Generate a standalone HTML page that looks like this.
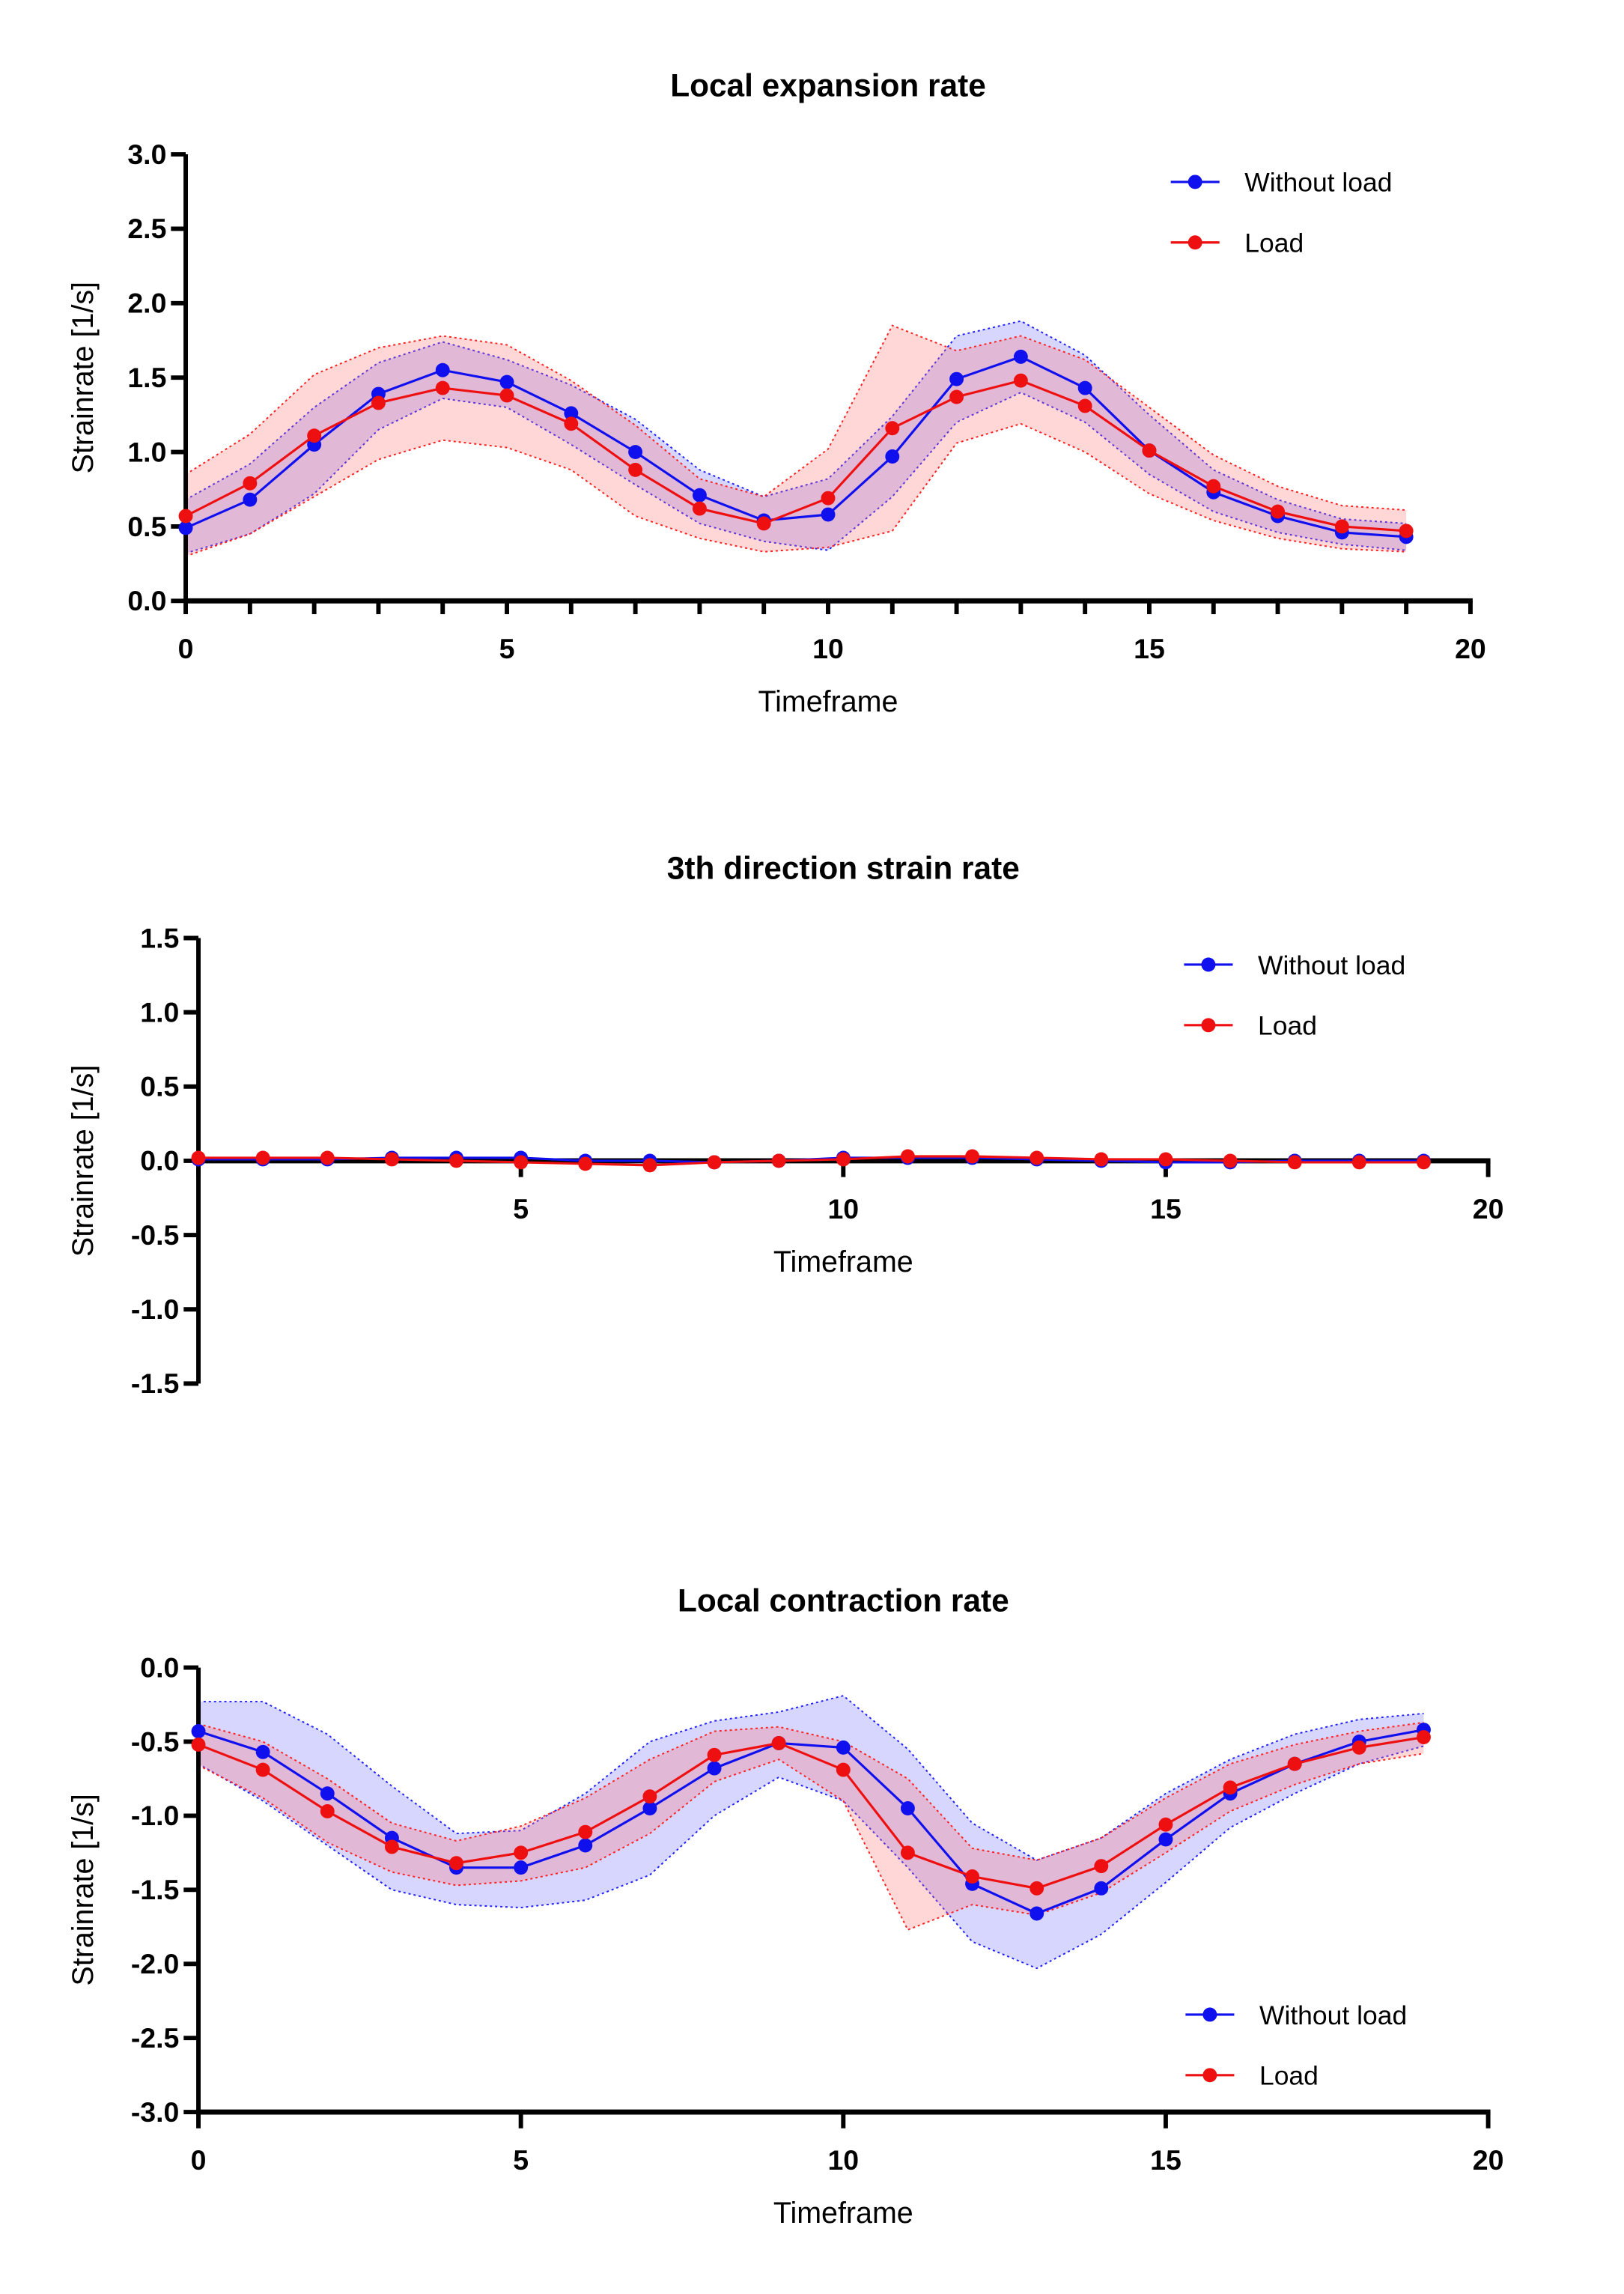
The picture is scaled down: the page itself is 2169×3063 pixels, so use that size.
<!DOCTYPE html>
<html><head><meta charset="utf-8"><style>
html,body{margin:0;padding:0;background:#fff;}
svg{display:block;font-family:"Liberation Sans",Arial,sans-serif;}
</style></head><body>
<svg id="root" width="2169" height="3063" viewBox="0 0 1100 1553" xmlns="http://www.w3.org/2000/svg"></svg>
<script>
const timeframes=[0,1,2,3,4,5,6,7,8,9,10,11,12,13,14,15,16,17,18,19];
// Chart 1: Local expansion rate
const exp_blue=[0.49,0.68,1.05,1.39,1.55,1.47,1.26,1.00,0.71,0.54,0.58,0.97,1.49,1.64,1.43,1.01,0.73,0.57,0.46,0.43];
const exp_blue_hi=[0.68,0.92,1.30,1.60,1.74,1.62,1.45,1.22,0.88,0.70,0.82,1.24,1.78,1.88,1.65,1.25,0.88,0.68,0.55,0.52];
const exp_blue_lo=[0.32,0.45,0.72,1.15,1.36,1.30,1.05,0.78,0.52,0.40,0.34,0.70,1.20,1.40,1.20,0.85,0.60,0.46,0.38,0.34];
const exp_red=[0.57,0.79,1.11,1.33,1.43,1.38,1.19,0.88,0.62,0.52,0.69,1.16,1.37,1.48,1.31,1.01,0.77,0.60,0.50,0.47];
const exp_red_hi=[0.85,1.12,1.52,1.70,1.78,1.72,1.48,1.18,0.82,0.70,1.02,1.85,1.68,1.78,1.62,1.30,0.98,0.77,0.64,0.61];
const exp_red_lo=[0.30,0.45,0.70,0.95,1.08,1.03,0.88,0.57,0.42,0.33,0.36,0.47,1.06,1.19,1.00,0.72,0.54,0.42,0.35,0.33];
// Chart 2: 3th direction strain rate
const dir_blue=[0.01,0.01,0.01,0.02,0.02,0.02,0.00,0.00,-0.01,0.00,0.02,0.02,0.02,0.01,0.00,-0.01,-0.01,0.00,0.00,0.00];
const dir_red=[0.02,0.02,0.02,0.01,0.00,-0.01,-0.02,-0.03,-0.01,0.00,0.01,0.03,0.03,0.02,0.01,0.01,0.00,-0.01,-0.01,-0.01];
// Chart 3: Local contraction rate
const con_blue=[-0.43,-0.57,-0.85,-1.15,-1.35,-1.35,-1.20,-0.95,-0.68,-0.51,-0.54,-0.95,-1.46,-1.66,-1.49,-1.16,-0.85,-0.65,-0.50,-0.42];
const con_blue_hi=[-0.23,-0.23,-0.45,-0.80,-1.12,-1.10,-0.85,-0.50,-0.36,-0.30,-0.19,-0.55,-1.05,-1.30,-1.15,-0.85,-0.62,-0.45,-0.35,-0.31];
const con_blue_lo=[-0.65,-0.90,-1.20,-1.50,-1.60,-1.62,-1.57,-1.40,-1.00,-0.74,-0.90,-1.35,-1.85,-2.03,-1.80,-1.45,-1.08,-0.85,-0.65,-0.53];
const con_red=[-0.52,-0.69,-0.97,-1.21,-1.32,-1.25,-1.11,-0.87,-0.59,-0.51,-0.69,-1.25,-1.41,-1.49,-1.34,-1.06,-0.81,-0.65,-0.54,-0.47];
const con_red_hi=[-0.38,-0.50,-0.75,-1.05,-1.17,-1.07,-0.88,-0.62,-0.43,-0.40,-0.50,-0.75,-1.22,-1.30,-1.15,-0.88,-0.65,-0.52,-0.43,-0.37];
const con_red_lo=[-0.66,-0.88,-1.18,-1.38,-1.47,-1.44,-1.35,-1.12,-0.77,-0.62,-0.90,-1.77,-1.60,-1.67,-1.52,-1.25,-0.97,-0.79,-0.65,-0.58];
const ticks1=["0.0","0.5","1.0","1.5","2.0","2.5","3.0"];
const ticks2=["-1.5","-1.0","-0.5","0.0","0.5","1.0","1.5"];
const ticks3=["-3.0","-2.5","-2.0","-1.5","-1.0","-0.5","0.0"];
const xticks=[0,5,10,15,20];

const NS="http://www.w3.org/2000/svg";
const root=document.getElementById('root');
function mk(tag,attrs,parent,text){const e=document.createElementNS(NS,tag);for(const k in attrs)e.setAttribute(k,attrs[k]);if(text!==undefined)e.textContent=text;(parent||root).appendChild(e);return e;}

function chart(cfg){
  const g=mk('g',{});
  
  
  const X=v=>cfg.x0+(v-0)/(20-0)*(cfg.x1-cfg.x0);
  const Y=v=>cfg.yb+(v-cfg.ymin)/(cfg.ymax-cfg.ymin)*(cfg.yt-cfg.yb);
  const t=mk('text',{x:(cfg.x0+cfg.x1)/2,y:cfg.titleY,'text-anchor':'middle','font-size':21.5,'font-weight':'bold'},g,cfg.title);
  
  
  function band(hi,lo,fill,stroke,name){
    let d='';
    timeframes.forEach((tf,i)=>{d+=(i?'L':'M')+X(tf)+','+Y(hi[i]);});
    for(let i=timeframes.length-1;i>=0;i--)d+='L'+X(timeframes[i])+','+Y(lo[i]);
    d+='Z';
    const p=mk('path',{d:d,fill:fill,stroke:'none'},g);
    
    
    [hi,lo].forEach(arr=>{
      const pl=mk('polyline',{points:timeframes.map((tf,i)=>X(tf)+','+Y(arr[i])).join(' '),fill:'none',stroke:stroke,'stroke-width':1,'stroke-dasharray':'1.5,2'},g);
      
      
    });
  }
  if(cfg.blueHi)band(cfg.blueHi,cfg.blueLo,'rgba(120,120,255,0.3)','#2020ff','without-load');
  if(cfg.redHi)band(cfg.redHi,cfg.redLo,'rgba(255,110,110,0.28)','#ff2020','load');
  const axY=cfg.xAxisAt!==undefined?Y(cfg.xAxisAt):cfg.yb;
  const ya=mk('line',{x1:cfg.x0,y1:cfg.yt,x2:cfg.x0,y2:cfg.yb,stroke:'#000','stroke-width':3},g);
  
  
  cfg.yticks.forEach((lab,i)=>{
    const v=cfg.ymin+i*(cfg.ymax-cfg.ymin)/(cfg.yticks.length-1);
    mk('line',{x1:cfg.x0-10,y1:Y(v),x2:cfg.x0,y2:Y(v),stroke:'#000','stroke-width':3},g);
    const tl=mk('text',{x:cfg.x0-13,y:Y(v)+6.5,'text-anchor':'end','font-size':19,'font-weight':'bold'},g,lab);
    
    
  });
  const xa=mk('line',{x1:cfg.x0-1.5,y1:axY,x2:cfg.x1+1.5,y2:axY,stroke:'#000','stroke-width':3.5},g);
  
  
  if(cfg.minor){for(let i=0;i<=20;i++)mk('line',{x1:X(i),y1:axY,x2:X(i),y2:axY+9,stroke:'#000','stroke-width':3},g);}
  else{xticks.forEach(v=>mk('line',{x1:X(v),y1:axY,x2:X(v),y2:axY+11,stroke:'#000','stroke-width':3},g));}
  xticks.forEach(v=>{
    if(cfg.skipZero&&v===0)return;
    const tl=mk('text',{x:X(v),y:axY+39,'text-anchor':'middle','font-size':19,'font-weight':'bold'},g,String(v));
    
    
  });
  const xl=mk('text',{x:(cfg.x0+cfg.x1)/2,y:axY+75,'text-anchor':'middle','font-size':20},g,'Timeframe');
  
  
  const yc=(cfg.yt+cfg.yb)/2;
  const yl=mk('text',{x:0,y:0,'text-anchor':'middle','font-size':20,transform:'translate('+(cfg.ylabX)+','+yc+') rotate(-90)'},g,'Strainrate [1/s]');
  
  
  function series(arr,color,name){
    const pl=mk('polyline',{points:timeframes.map((tf,i)=>X(tf)+','+Y(arr[i])).join(' '),fill:'none',stroke:color,'stroke-width':1.6},g);
    
    
    timeframes.forEach((tf,i)=>{
      const c=mk('circle',{cx:X(tf),cy:Y(arr[i]),r:4.8,fill:color},g);
      
      
    });
  }
  series(cfg.blue,'#1010ee','without-load');
  series(cfg.red,'#ee1010','load');
  [['Without load','#1010ee',cfg.legY],['Load','#ee1010',cfg.legY+41]].forEach(([lab,col,y])=>{
    const lg=mk('g',{},g);
    
    
    mk('line',{x1:cfg.legX,y1:y,x2:cfg.legX+33,y2:y,stroke:col,'stroke-width':1.6},lg);
    mk('circle',{cx:cfg.legX+16.5,cy:y,r:4.8,fill:col},lg);
    mk('text',{x:cfg.legX+50,y:y+6.5,'font-size':18},lg,lab);
  });
}
chart({name:'expansion-chart',title:'Local expansion rate',titleY:65,x0:125.8,x1:996,yt:104.3,yb:406.7,ymin:0,ymax:3,yticks:ticks1,minor:true,ylabX:63,
  blue:exp_blue,blueHi:exp_blue_hi,blueLo:exp_blue_lo,red:exp_red,redHi:exp_red_hi,redLo:exp_red_lo,legX:793,legY:123});
chart({name:'third-direction-chart',title:'3th direction strain rate',titleY:595,x0:134.4,x1:1008,yt:635,yb:936.7,ymin:-1.5,ymax:1.5,yticks:ticks2,xAxisAt:0,skipZero:true,ylabX:63,
  blue:dir_blue,red:dir_red,legX:802,legY:653});
chart({name:'contraction-chart',title:'Local contraction rate',titleY:1091,x0:134.4,x1:1008,yt:1129,yb:1430,ymin:-3,ymax:0,yticks:ticks3,ylabX:63,
  blue:con_blue,blueHi:con_blue_hi,blueLo:con_blue_lo,red:con_red,redHi:con_red_hi,redLo:con_red_lo,legX:803,legY:1364});
</script>
</body></html>
